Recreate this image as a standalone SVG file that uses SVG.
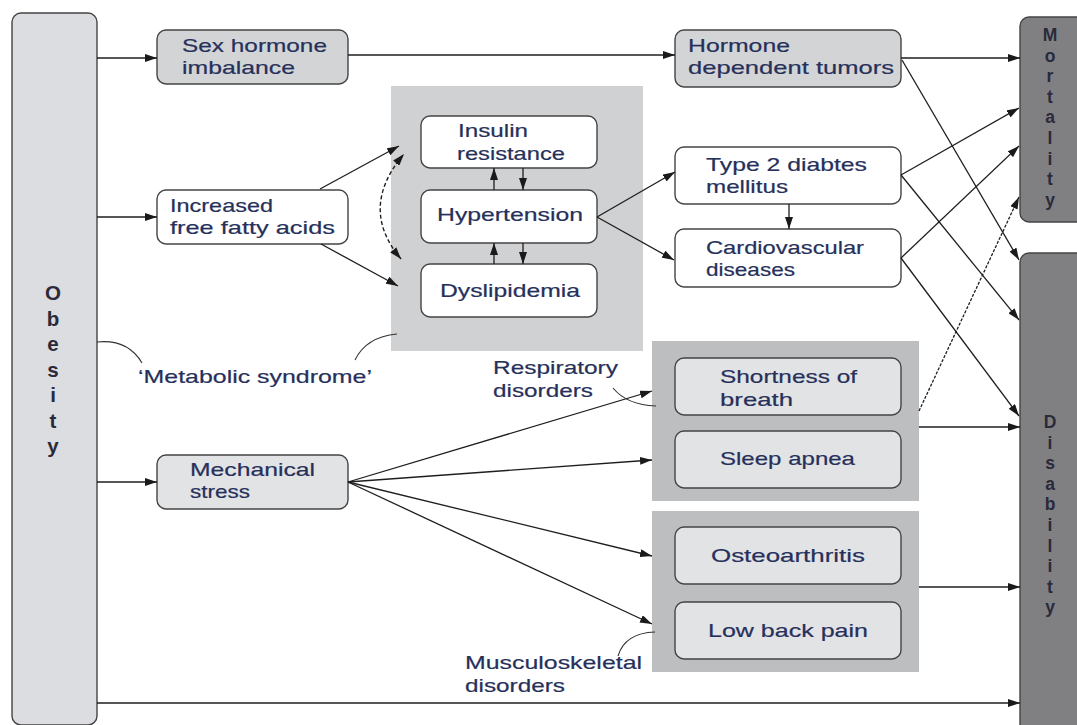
<svg xmlns="http://www.w3.org/2000/svg" width="1077" height="725" viewBox="0 0 1077 725">
<defs>
<marker id="ah" viewBox="0 0 12 8" refX="12" refY="4" markerWidth="12" markerHeight="8" markerUnits="userSpaceOnUse" orient="auto-start-reverse">
<path d="M0,0 L12,4 L0,8 z" fill="#1a1a1a"/>
</marker>
<style>
.b{stroke:#444;stroke-width:1.4}
.t{font-family:"Liberation Sans",Arial,sans-serif;font-size:19px;fill:#26305a;stroke:#26305a;stroke-width:0.2}
.v{font-family:"Liberation Sans",Arial,sans-serif;font-weight:bold;fill:#2a2a3a;text-anchor:middle}
.c{fill:none;stroke:#1e1e1e;stroke-width:1.4}
.a{fill:none;stroke:#1e1e1e;stroke-width:1.3;marker-end:url(#ah)}
.k{fill:none;stroke:#333;stroke-width:1.1}
</style>
</defs>
<rect width="1077" height="725" fill="#ffffff"/>

<g id="obesity">
<rect x="12" y="13" width="85" height="712" rx="9" fill="#dcdde0" class="b"/>
<g class="v" font-size="20.5">
<text x="53" y="300">O</text><text x="53" y="325.5">b</text><text x="53" y="351">e</text><text x="53" y="376.5">s</text><text x="53" y="402">i</text><text x="53" y="427.5">t</text><text x="53" y="453">y</text>
</g>
</g>

<g id="mortality">
<rect x="1020" y="17" width="70" height="205" rx="9" fill="#808083" class="b"/>
<g class="v" font-size="17.5">
<text x="1050" y="41">M</text><text x="1050" y="61.6">o</text><text x="1050" y="82.2">r</text><text x="1050" y="102.8">t</text><text x="1050" y="123.4">a</text><text x="1050" y="144">l</text><text x="1050" y="164.6">i</text><text x="1050" y="185.2">t</text><text x="1050" y="205.8">y</text>
</g>
</g>

<g id="disability">
<rect x="1020" y="253" width="70" height="500" rx="9" fill="#808083" class="b"/>
<g class="v" font-size="17.5">
<text x="1050" y="428">D</text><text x="1050" y="448.6">i</text><text x="1050" y="469.2">s</text><text x="1050" y="489.8">a</text><text x="1050" y="510.4">b</text><text x="1050" y="531">i</text><text x="1050" y="551.6">l</text><text x="1050" y="572.2">i</text><text x="1050" y="592.8">t</text><text x="1050" y="613.4">y</text>
</g>
</g>

<g id="sex-hormone">
<rect x="157" y="30" width="191" height="54" rx="9" fill="#d3d4d6" class="b"/>
<text class="t" x="182" y="52" textLength="145" lengthAdjust="spacingAndGlyphs">Sex hormone</text>
<text class="t" x="182" y="74" textLength="113" lengthAdjust="spacingAndGlyphs">imbalance</text>
</g>

<g id="ffa">
<rect x="157" y="190" width="191" height="54" rx="9" fill="#ffffff" class="b"/>
<text class="t" x="170" y="212" textLength="103" lengthAdjust="spacingAndGlyphs">Increased</text>
<text class="t" x="170" y="234" textLength="165" lengthAdjust="spacingAndGlyphs">free fatty acids</text>
</g>

<g id="mechanical">
<rect x="157" y="455" width="191" height="54" rx="9" fill="#e2e3e5" class="b"/>
<text class="t" x="190" y="476" textLength="125" lengthAdjust="spacingAndGlyphs">Mechanical</text>
<text class="t" x="190" y="498" textLength="60" lengthAdjust="spacingAndGlyphs">stress</text>
</g>

<g id="hormone-tumors">
<rect x="675" y="30" width="226" height="57" rx="9" fill="#d3d4d6" class="b"/>
<text class="t" x="688" y="52" textLength="102" lengthAdjust="spacingAndGlyphs">Hormone</text>
<text class="t" x="688" y="74" textLength="206" lengthAdjust="spacingAndGlyphs">dependent tumors</text>
</g>

<g id="metabolic-syndrome">
<rect x="391" y="86" width="252" height="265" fill="#d0d1d3"/>
</g>

<g id="insulin">
<rect x="421" y="116" width="176" height="52" rx="9" fill="#ffffff" class="b"/>
<text class="t" x="458" y="137" textLength="70" lengthAdjust="spacingAndGlyphs">Insulin</text>
<text class="t" x="457" y="160" textLength="108" lengthAdjust="spacingAndGlyphs">resistance</text>
</g>

<g id="hypertension">
<rect x="421" y="190" width="176" height="53" rx="9" fill="#ffffff" class="b"/>
<text class="t" x="437" y="221" textLength="146" lengthAdjust="spacingAndGlyphs">Hypertension</text>
</g>

<g id="dyslipidemia">
<rect x="421" y="264" width="176" height="53" rx="9" fill="#ffffff" class="b"/>
<text class="t" x="440" y="297" textLength="140" lengthAdjust="spacingAndGlyphs">Dyslipidemia</text>
</g>

<g id="type2">
<rect x="675" y="147" width="226" height="57" rx="9" fill="#ffffff" class="b"/>
<text class="t" x="706" y="171" textLength="161" lengthAdjust="spacingAndGlyphs">Type 2 diabtes</text>
<text class="t" x="706" y="193" textLength="82" lengthAdjust="spacingAndGlyphs">mellitus</text>
</g>

<g id="cvd">
<rect x="675" y="229" width="226" height="58" rx="9" fill="#ffffff" class="b"/>
<text class="t" x="706" y="254" textLength="158" lengthAdjust="spacingAndGlyphs">Cardiovascular</text>
<text class="t" x="706" y="276" textLength="89" lengthAdjust="spacingAndGlyphs">diseases</text>
</g>

<g id="respiratory">
<rect x="652" y="341" width="267" height="160" fill="#bdbec0"/>
<text class="t" x="493" y="374" textLength="125" lengthAdjust="spacingAndGlyphs">Respiratory</text>
<text class="t" x="493" y="397" textLength="100" lengthAdjust="spacingAndGlyphs">disorders</text>
</g>

<g id="shortness">
<rect x="675" y="358" width="226" height="57" rx="9" fill="#e2e3e5" class="b"/>
<text class="t" x="720" y="383" textLength="137" lengthAdjust="spacingAndGlyphs">Shortness of</text>
<text class="t" x="720" y="406" textLength="73" lengthAdjust="spacingAndGlyphs">breath</text>
</g>

<g id="sleep-apnea">
<rect x="675" y="431" width="226" height="57" rx="9" fill="#e2e3e5" class="b"/>
<text class="t" x="720" y="465" textLength="135" lengthAdjust="spacingAndGlyphs">Sleep apnea</text>
</g>

<g id="musculoskeletal">
<rect x="652" y="511" width="267" height="161" fill="#bdbec0"/>
<text class="t" x="465" y="669" textLength="177" lengthAdjust="spacingAndGlyphs">Musculoskeletal</text>
<text class="t" x="465" y="692" textLength="100" lengthAdjust="spacingAndGlyphs">disorders</text>
</g>

<g id="osteoarthritis">
<rect x="675" y="527" width="226" height="57" rx="9" fill="#e2e3e5" class="b"/>
<text class="t" x="711" y="562" textLength="154" lengthAdjust="spacingAndGlyphs">Osteoarthritis</text>
</g>

<g id="low-back-pain">
<rect x="675" y="602" width="226" height="57" rx="9" fill="#e2e3e5" class="b"/>
<text class="t" x="708" y="637" textLength="160" lengthAdjust="spacingAndGlyphs">Low back pain</text>
</g>

<g id="metabolic-label">
<text class="t" x="138" y="383" textLength="234" lengthAdjust="spacingAndGlyphs">‘Metabolic syndrome’</text>
</g>

<g id="connectors">
<path class="a" d="M97,58 H157"/>
<path class="a" d="M97,217 H157"/>
<path class="a" d="M97,482 H157"/>
<path class="a" d="M97,703 H1020"/>
<path class="a" d="M348,55 H675"/>
<path class="a" d="M320,189 L399,146"/>
<path class="a" d="M321,244 L398,286"/>
<path class="c" d="M401,259 Q358,208 404,154" stroke-dasharray="4,2.5" marker-start="url(#ah)" marker-end="url(#ah)"/>
<path class="a" d="M494,190 V168"/>
<path class="a" d="M523,168 V190"/>
<path class="a" d="M494,264 V243"/>
<path class="a" d="M523,243 V264"/>
<path class="a" d="M597,217 L675,172"/>
<path class="a" d="M597,217 L674,260"/>
<path class="a" d="M789,204 V229"/>
<path class="a" d="M901,58 H1020"/>
<path class="a" d="M902,60 L1019,260"/>
<path class="a" d="M901,175 L1019,108"/>
<path class="a" d="M901,175 L1019,320"/>
<path class="a" d="M901,258 L1019,146"/>
<path class="a" d="M901,258 L1019,416"/>
<path class="a" d="M919,411 L1019,197" stroke-dasharray="3,1.5"/>
<path class="a" d="M919,427 H1020"/>
<path class="a" d="M919,587 H1020"/>
<path class="a" d="M348,482 L652,391"/>
<path class="a" d="M348,482 L652,460"/>
<path class="a" d="M348,482 L652,556"/>
<path class="a" d="M348,482 L652,624"/>
<path class="k" d="M97,342 Q128,339 142,363"/>
<path class="k" d="M397,334 Q366,337 355,360"/>
<path class="k" d="M613,388 Q627,405 656,406"/>
<path class="k" d="M618,656 Q625,633 655,632"/>
</g>
</svg>
